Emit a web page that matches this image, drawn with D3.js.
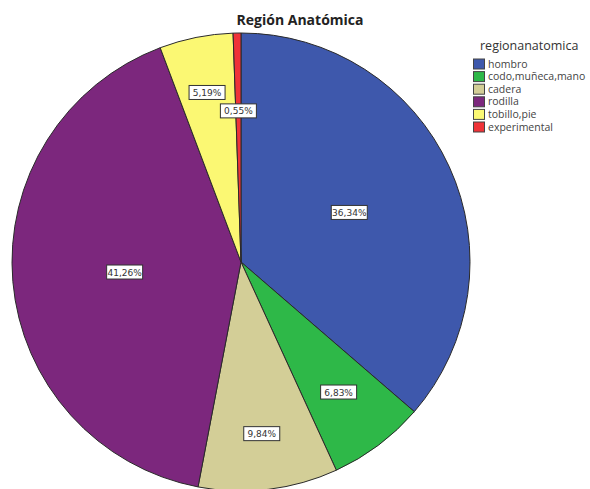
<!DOCTYPE html>
<html>
<head>
<meta charset="utf-8">
<script src="https://cdn.jsdelivr.net/npm/d3@7"></script>
<style>
  body { margin: 0; background: #fff; }
  svg { display: block; }
</style>
</head>
<body>
<div id="chart"></div>
<script>
var width = 590, height = 489;

// data
var categories = ['hombro', 'codo,muñeca,mano', 'cadera', 'rodilla', 'tobillo,pie', 'experimental'];
var values = [36.34, 6.83, 9.84, 41.26, 5.19, 0.55];
var labels = ['36,34%', '6,83%', '9,84%', '41,26%', '5,19%', '0,55%'];

// layout
var colors = ['#3e58ac', '#2eb848', '#d3ce97', '#7c277d', '#fbf873', '#ef3338'];
var label_radius = [0.52, 0.71, 0.755, 0.51, 0.755, 0.66];
var cx = 241, cy = 262, radius = 229;

var svg = d3.select('#chart')
    .append('svg')
        .attr('width', width)
        .attr('height', height);

svg.append('text')
    .attr('x', 300)
    .attr('y', 25)
    .attr('text-anchor', 'middle')
    .style('font-family', 'Open Sans')
    .style('font-weight', 'bold')
    .style('font-size', '14px')
    .style('fill', '#222')
    .text('Región Anatómica');

var pie = d3.pie().sort(null).value(function(d){ return d; });
var arcs = pie(values);

var arc = d3.arc().innerRadius(0).outerRadius(radius);

var g = svg.append('g')
    .attr('transform', 'translate(' + cx + ',' + cy + ')');

g.selectAll('path')
    .data(arcs)
    .enter()
    .append('path')
        .attr('d', arc)
        .attr('fill', function(d, i){ return colors[i]; })
        .attr('stroke', '#2a2a2a')
        .attr('stroke-width', 1);

//Labels
var lab = g.selectAll('.lab')
    .data(arcs)
    .enter()
    .append('g')
        .attr('class', 'lab')
        .attr('transform', function(d, i){
            var r = radius * label_radius[i];
            var c = d3.arc().innerRadius(r).outerRadius(r).centroid(d);
            return 'translate(' + c[0] + ',' + c[1] + ')';
        });

lab.append('rect')
    .attr('x', -18)
    .attr('y', -7)
    .attr('width', 36)
    .attr('height', 14)
    .attr('fill', '#fff')
    .attr('stroke', '#333')
    .attr('stroke-width', 1);

lab.append('text')
    .attr('text-anchor', 'middle')
    .attr('y', 3.5)
    .style('font-family', 'DejaVu Sans')
    .style('font-size', '9px')
    .style('fill', '#333')
    .text(function(d, i){ return labels[i]; });

//Legend
var legend = svg.append('g')
    .attr('transform', 'translate(473, 0)');

legend.append('text')
    .attr('x', 7)
    .attr('y', 50)
    .style('font-family', 'Open Sans')
    .style('font-size', '12.5px')
    .style('fill', '#333')
    .text('regionanatomica');

var rows = legend.selectAll('.row')
    .data(categories)
    .enter()
    .append('g')
        .attr('class', 'row')
        .attr('transform', function(d, i){ return 'translate(0,' + (64 + i * 12.6) + ')'; });

rows.append('rect')
    .attr('x', 0.5)
    .attr('y', -5)
    .attr('width', 11)
    .attr('height', 10)
    .attr('fill', function(d, i){ return colors[i]; })
    .attr('stroke', '#444')
    .attr('stroke-width', 1);

rows.append('text')
    .attr('x', 15)
    .attr('y', 3.5)
    .style('font-family', 'Open Sans')
    .style('font-size', '10.5px')
    .style('fill', '#444')
    .text(function(d){ return d; });
</script>
</body>
</html>
